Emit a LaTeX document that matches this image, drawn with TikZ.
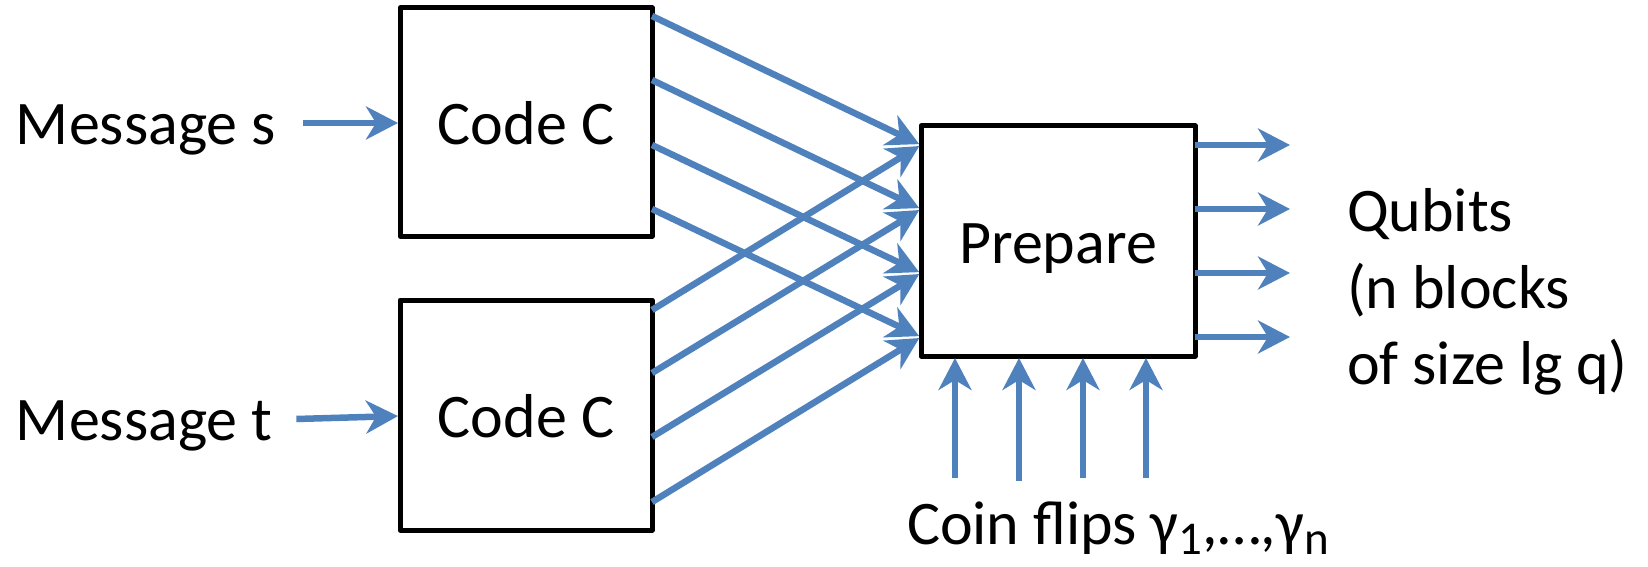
\documentclass[tikz,border=0pt]{standalone}
\usepackage{fontspec}
\setmainfont{Carlito}
\usetikzlibrary{arrows.meta}
\definecolor{flowblue}{HTML}{4F81BD}
\newcommand{\subidx}[1]{\raisebox{-10pt}{\fontsize{47}{47}\selectfont #1}}
\tikzset{
  block/.style={draw=black, line width=5pt, line join=round, inner sep=0pt, outer sep=0pt},
  txt/.style={inner sep=0pt, outer sep=0pt, font=\fontsize{62}{77}\selectfont},
  flow/.style={draw=flowblue, line width=6.5pt, shorten >=2pt,
    -{Stealth[length=32pt,width=33pt,inset=10pt]}},
}
\begin{document}
\begin{tikzpicture}[x=1pt,y=-1pt]
\useasboundingbox (0,0) rectangle (1648,567);

% blocks
\node[block, minimum width=252pt, minimum height=228pt] (c1) at (526,122) {};
\node[block, minimum width=252pt, minimum height=230pt] (c2) at (526,415) {};
\node[block, minimum width=274pt, minimum height=230pt] (prep) at (1058,241) {};

% block captions
\node[txt, anchor=base] (c1t) at (526,145) {Code C};
\node[txt, anchor=base] (c2t) at (526,437) {Code C};
\node[txt, anchor=base] (prept) at (1058,263) {Prepare};

% input labels
\node[txt, anchor=base west] (ms) at (16,145) {Message s};
\node[txt, anchor=base west] (mt) at (16,440) {Message t};

% output label
\node[txt, anchor=base west] (q1) at (1347,231) {Qubits};
\node[txt, anchor=base west] (q2) at (1347,308) {(n blocks};
\node[txt, anchor=base west] (q3) at (1347,384) {of size lg q)};

% randomness label
\node[txt, anchor=base west] (coin) at (907,544) {Coin flips γ\subidx{1},…,γ\subidx{n}};

% messages into the encoders
\draw[flow] ([xshift=27pt]ms.east |- 0,123) -- (c1.west |- 0,123);
\draw[flow] ([xshift=24pt]mt.east |- 0,419) -- (c2.west |- 0,416);

% codeword symbols into the preparation stage
\foreach \a/\b in {16/145,80/209,145/273,209/337}
  \draw[flow] (c1.east |- 0,\a) -- (prep.west |- 0,\b);
\foreach \a/\b in {310/145,373/209,437/273,502/337}
  \draw[flow] (c2.east |- 0,\a) -- (prep.west |- 0,\b);

% qubit outputs
\foreach \b [count=\k] in {145,209,273,337} {
  \coordinate (out\k) at (1292,\b);
  \draw[flow] (prep.east |- 0,\b) -- (out\k);
}

% coin flip inputs
\foreach \x/\y [count=\k] in {955/478,1019/481,1083/478,1146/478} {
  \coordinate (coin\k) at (\x,\y);
  \draw[flow] (coin\k) -- (prep.south -| coin\k);
}
\end{tikzpicture}
\end{document}
